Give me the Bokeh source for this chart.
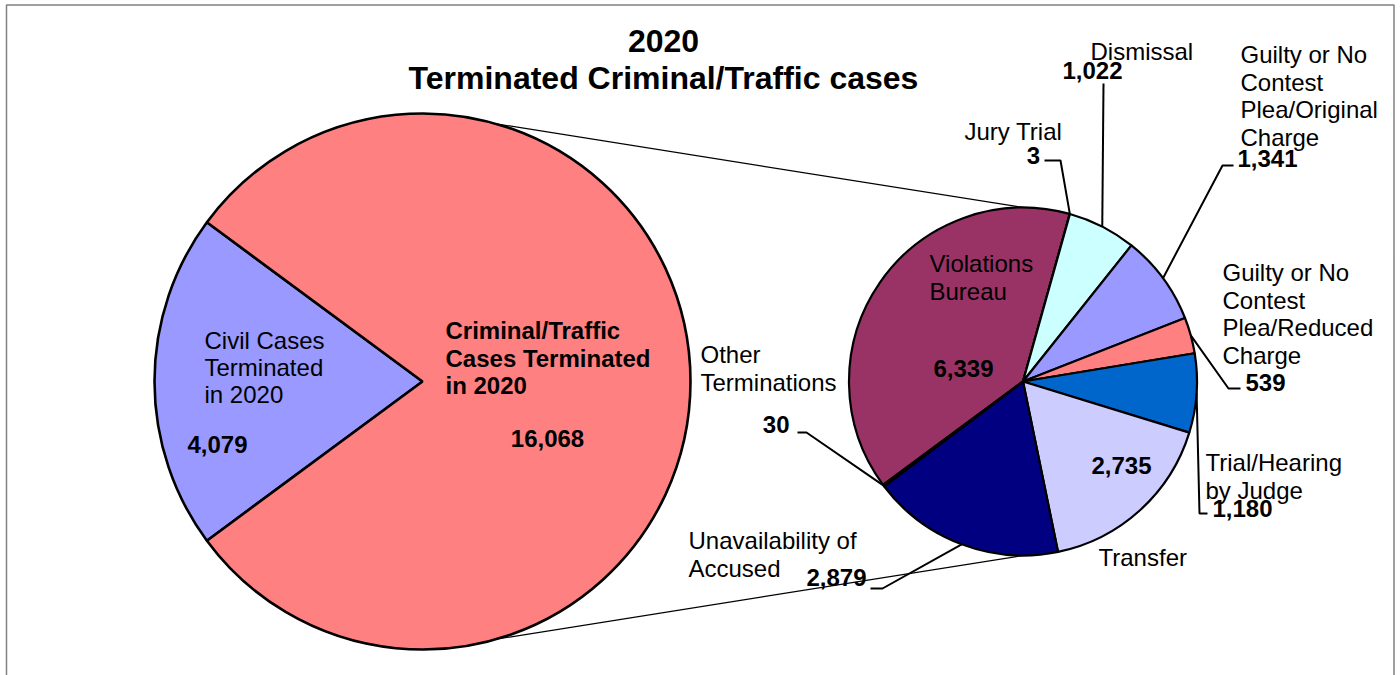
import math
from bokeh.plotting import figure
from bokeh.models import Range1d, ColumnDataSource
from bokeh.core.properties import value
from bokeh.embed import file_html
from bokeh.resources import INLINE

# ---------------- data ----------------
title_lines = ["2020", "Terminated Criminal/Traffic cases"]

outer_categories = ["Civil Cases Terminated in 2020", "Criminal/Traffic Cases Terminated in 2020"]
outer_values = [4079, 16068]
outer_colors = ["#9999FF", "#FF8080"]

inner_categories = [
    "Violations Bureau",
    "Jury Trial",
    "Dismissal",
    "Guilty or No Contest Plea/Original Charge",
    "Guilty or No Contest Plea/Reduced Charge",
    "Trial/Hearing by Judge",
    "Transfer",
    "Unavailability of Accused",
    "Other Terminations",
]
inner_values = [6339, 3, 1022, 1341, 539, 1180, 2735, 2879, 30]
inner_colors = ["#993366", "#FFFFCC", "#CCFFFF", "#9999FF", "#FF8080",
                "#0066CC", "#CCCCFF", "#000080", "#FF00FF"]

# ---------------- layout (reference pixel coordinates) ----------------
PAGE_W, PAGE_H = 1400, 675
W, H = PAGE_W, PAGE_H
FONT = "Liberation Sans"
LBL = "24px"


def Y(py):
    return PAGE_H - py


C1 = (422.0, 381.0)
R1 = 268.0
C2 = (1022.5, 381.0)
R2 = 174.0

p = figure(width=W, height=H, output_backend="svg", toolbar_location=None,
           x_range=Range1d(0, PAGE_W), y_range=Range1d(0, PAGE_H),
           min_border=0, x_axis_location=None, y_axis_location=None)
p.grid.visible = False
p.outline_line_color = None
p.background_fill_color = "white"
p.border_fill_color = "white"

# frame lines of the chart area
p.line([6, 6, 1393.5, 1393.5], [Y(PAGE_H + 5), Y(4.5), Y(4.5), Y(PAGE_H + 5)],
       line_color="#808080", line_width=1.5)

# ---------------- outer pie ----------------
tot_outer = sum(outer_values)
civil_ang = 360.0 * outer_values[0] / tot_outer
o_start = [180 - civil_ang / 2, 180 + civil_ang / 2]
o_end = [180 + civil_ang / 2, 180 - civil_ang / 2 + 360]

# connector lines (drawn first, under the pies)
ANG_L = 74.0
for sgn in (1, -1):
    a = math.radians(sgn * ANG_L)
    x0 = C1[0] + R1 * math.cos(a)
    y0 = Y(C1[1]) + R1 * math.sin(a)
    x1 = C2[0]
    y1 = Y(C2[1]) + sgn * R2
    p.line([x0, x1], [y0, y1], line_color="black", line_width=1.2)

osrc = ColumnDataSource(dict(
    cat=outer_categories, val=outer_values, color=outer_colors,
    start=[math.radians(v) for v in o_start], end=[math.radians(v) for v in o_end]))
p.wedge(x=C1[0], y=Y(C1[1]), radius=R1, start_angle="start", end_angle="end",
        fill_color="color", line_color="black", line_width=2.6, source=osrc)

# ---------------- inner pie ----------------
tot_inner = sum(inner_values)
S = 180 + civil_ang / 2
k = 360.0 / tot_inner
i_start, i_end, i_mid = [], [], []
cum = 0
for v in inner_values:
    cw_s = S - cum * k
    cw_e = S - (cum + v) * k
    i_start.append(cw_e)
    i_end.append(cw_s)
    i_mid.append((cw_s + cw_e) / 2)
    cum += v

isrc = ColumnDataSource(dict(
    cat=inner_categories, val=inner_values, color=inner_colors,
    start=[math.radians(v) for v in i_start], end=[math.radians(v) for v in i_end]))
p.wedge(x=C2[0], y=Y(C2[1]), radius=R2, start_angle="start", end_angle="end",
        fill_color="color", line_color="black", line_width=2.2, source=isrc)


def txt(x, py, s, size=LBL, bold=False, align="left"):
    p.text(x=[x], y=[Y(py)], text=[s], text_font=value(FONT),
           text_font_size=value(size), text_font_style="bold" if bold else "normal",
           text_align=align, text_baseline="middle", text_color="black")


def lines(x, py0, parts, dy, bold=False, align="left"):
    for j, s in enumerate(parts):
        txt(x, py0 + j * dy, s, bold=bold, align=align)


# title
txt(663, 40, title_lines[0], size="32px", bold=True, align="center")
txt(663, 77, title_lines[1], size="32px", bold=True, align="center")

# outer labels
lines(204, 340, ["Civil Cases", "Terminated", "in 2020"], 27)
txt(217, 444, f"{outer_values[0]:,}", bold=True, align="center")
lines(445, 330, ["Criminal/Traffic", "Cases Terminated", "in 2020"], 27.5, bold=True)
txt(547, 438, f"{outer_values[1]:,}", bold=True, align="center")

# inner label placement: name lines, value position, leader elbow points
inner_layout = [
    dict(name=["Violations", "Bureau"], nx=929, ny=263, val=(963, 368, "center"), elbow=None),
    dict(name=["Jury Trial"], nx=964, ny=131, val=(1033, 155, "center"), elbow=[(1044, 160), (1060, 160)]),
    dict(name=["Dismissal"], nx=1090, ny=51, val=(1092, 70, "center"), elbow=[(1103, 83)]),
    dict(name=["Guilty or No", "Contest", "Plea/Original", "Charge"], nx=1240, ny=54,
         val=(1237, 158, "left"), elbow=[(1233, 165), (1222, 165)]),
    dict(name=["Guilty or No", "Contest", "Plea/Reduced", "Charge"], nx=1222, ny=272,
         val=(1245, 382, "left"), elbow=[(1240, 388), (1228, 388)]),
    dict(name=["Trial/Hearing", "by Judge"], nx=1205, ny=462, val=(1212, 508, "left"),
         elbow=[(1207, 513), (1199, 513)]),
    dict(name=["Transfer"], nx=1098, ny=557, val=(1121, 465, "center"), elbow=None),
    dict(name=["Unavailability of", "Accused"], nx=688, ny=540, val=(836, 577, "center"),
         elbow=[(870, 588), (882, 588)]),
    dict(name=["Other", "Terminations"], nx=700, ny=354, val=(789, 424, "right"),
         elbow=[(797, 432), (806, 432)]),
]

for v, m, lay in zip(inner_values, i_mid, inner_layout):
    lines(lay["nx"], lay["ny"], lay["name"], 27.5)
    vx, vy, va = lay["val"]
    txt(vx, vy, f"{v:,}", bold=True, align=va)
    if lay["elbow"]:
        a = math.radians(m)
        px = C2[0] + R2 * math.cos(a)
        py = C2[1] - R2 * math.sin(a)
        pts = lay["elbow"] + [(px, py)]
        p.line([q[0] for q in pts], [Y(q[1]) for q in pts], line_color="black", line_width=2)

open("out.html", "w").write(file_html(p, INLINE))
